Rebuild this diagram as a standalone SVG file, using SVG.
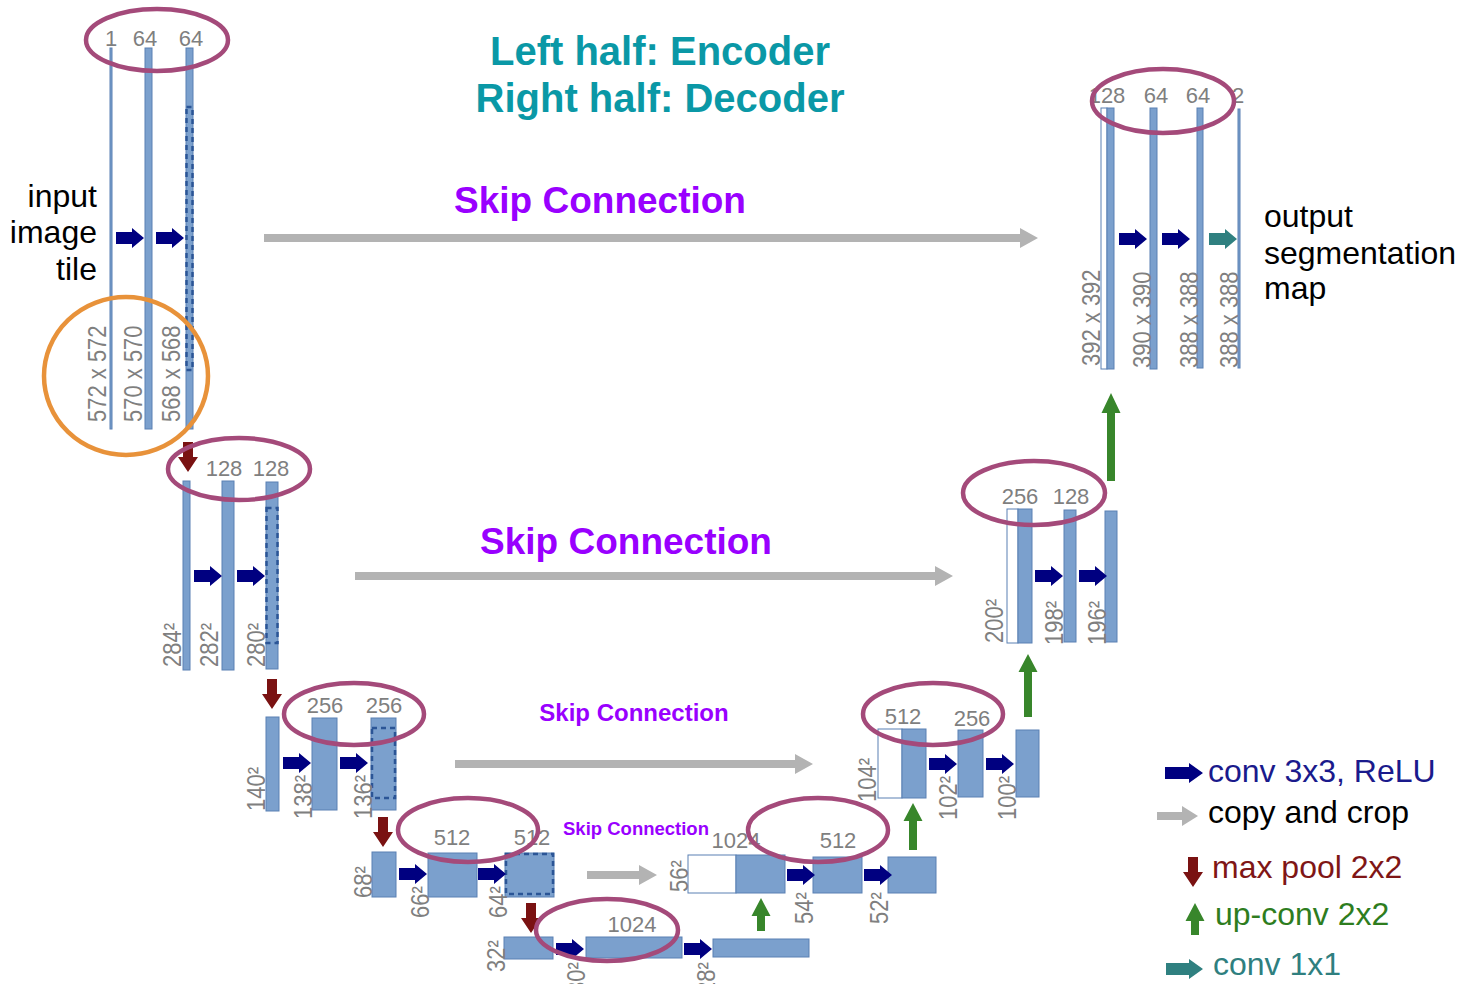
<svg xmlns="http://www.w3.org/2000/svg" width="1470" height="984" viewBox="0 0 1470 984">
<style>
.bar{fill:#7ba0cd;stroke:#5a80b3;stroke-width:1}
.wbar{fill:#fff;stroke:#5a80b3;stroke-width:1}
.dash{fill:none;stroke:#2b5596;stroke-width:2.5;stroke-dasharray:5 4}
.lbl{font-family:"Liberation Sans",Arial,sans-serif;font-size:22px;fill:#7f7f7f}
.mid{text-anchor:middle}
.ell{fill:none;stroke:#a44a7a;stroke-width:4.5}
.conv{fill:#000080}
.pool{fill:#7a1212}
.up{fill:#38862b}
.copy{fill:#b3b3b3}
.c11{fill:#2f8080}
.skip{font-family:"Liberation Sans",Arial,sans-serif;font-weight:bold;fill:#9900ff;text-anchor:middle}
.title{font-family:"Liberation Sans",Arial,sans-serif;font-weight:bold;font-size:40px;fill:#0a98a6;text-anchor:middle}
.big{font-family:"Liberation Sans",Arial,sans-serif;font-size:32px;fill:#000}
</style>
<defs>
<path id="aConv" d="M-28,-6 H-12 V-10 L0,0 L-12,10 V6 H-28 Z"/>
<path id="aPool" d="M-5,-30 H5 V-15 H10 L0,0 L-10,-15 H-5 Z"/>
</defs>
<rect width="1470" height="984" fill="#fff"/>

<text class="title" x="660" y="65">Left half: Encoder</text>
<text class="title" x="660" y="112">Right half: Decoder</text>

<g id="enc1">
<rect class="bar" x="110" y="48" width="2" height="381"/>
<rect class="bar" x="145" y="48" width="7" height="381"/>
<rect class="bar" x="186" y="48" width="7" height="381"/>
<rect class="dash" x="186.5" y="107" width="6" height="263"/>
<text class="lbl mid" x="111" y="46">1</text>
<text class="lbl mid" x="145" y="46">64</text>
<text class="lbl mid" x="191" y="46">64</text>
<text class="lbl" transform="translate(106,422) rotate(-90) scale(1,1.18)">572 x 572</text>
<text class="lbl" transform="translate(142,422) rotate(-90) scale(1,1.18)">570 x 570</text>
<text class="lbl" transform="translate(180,422) rotate(-90) scale(1,1.18)">568 x 568</text>
<text class="big" text-anchor="end" x="97" y="207">input</text>
<text class="big" text-anchor="end" x="97" y="243">image</text>
<text class="big" text-anchor="end" x="97" y="280">tile</text>
</g>

<g id="enc2">
<rect class="bar" x="183" y="481" width="7" height="189"/>
<rect class="bar" x="222" y="481" width="12" height="189"/>
<rect class="bar" x="266" y="482" width="12" height="187"/>
<rect class="dash" x="266.5" y="508" width="11" height="135"/>
<text class="lbl mid" x="224" y="476">128</text>
<text class="lbl mid" x="271" y="476">128</text>
<text class="lbl" transform="translate(181,667) rotate(-90) scale(1,1.18)">284²</text>
<text class="lbl" transform="translate(218,667) rotate(-90) scale(1,1.18)">282²</text>
<text class="lbl" transform="translate(265,667) rotate(-90) scale(1,1.18)">280²</text>
</g>

<g id="enc3">
<rect class="bar" x="266" y="717" width="13" height="94"/>
<rect class="bar" x="312" y="718" width="25" height="92"/>
<rect class="bar" x="371" y="718" width="25" height="92"/>
<rect class="dash" x="372" y="728" width="23" height="70"/>
<text class="lbl mid" x="325" y="713">256</text>
<text class="lbl mid" x="384" y="713">256</text>
<text class="lbl" transform="translate(265,811) rotate(-90) scale(1,1.18)">140²</text>
<text class="lbl" transform="translate(312,819) rotate(-90) scale(1,1.18)">138²</text>
<text class="lbl" transform="translate(372,819) rotate(-90) scale(1,1.18)">136²</text>
</g>

<g id="enc4">
<rect class="bar" x="372" y="852" width="24" height="45"/>
<rect class="bar" x="428" y="853" width="49" height="44"/>
<rect class="bar" x="505" y="853" width="49" height="44"/>
<rect class="dash" x="506" y="854" width="47" height="40"/>
<text class="lbl mid" x="452" y="845">512</text>
<text class="lbl mid" x="532" y="845">512</text>
<text class="lbl" transform="translate(372,898) rotate(-90) scale(1,1.18)">68²</text>
<text class="lbl" transform="translate(429,918) rotate(-90) scale(1,1.18)">66²</text>
<text class="lbl" transform="translate(507,918) rotate(-90) scale(1,1.18)">64²</text>
</g>

<g id="bottleneck">
<rect class="bar" x="504" y="937" width="49" height="22"/>
<rect class="bar" x="586" y="937" width="96" height="21"/>
<rect class="bar" x="713" y="939" width="96" height="18"/>
<text class="lbl mid" x="632" y="932">1024</text>
<text class="lbl" transform="translate(505,972) rotate(-90) scale(1,1.18)">32²</text>
<text class="lbl" transform="translate(585,994) rotate(-90) scale(1,1.18)">30²</text>
<text class="lbl" transform="translate(715,994) rotate(-90) scale(1,1.18)">28²</text>
</g>

<g id="dec4">
<rect class="wbar" x="688" y="855" width="48" height="38"/>
<rect class="bar" x="736" y="855" width="49" height="38"/>
<rect class="bar" x="813" y="857" width="49" height="36"/>
<rect class="bar" x="888" y="857" width="48" height="36"/>
<text class="lbl mid" x="736" y="848">1024</text>
<text class="lbl mid" x="838" y="848">512</text>
<text class="lbl" transform="translate(688,892) rotate(-90) scale(1,1.18)">56²</text>
<text class="lbl" transform="translate(813,924) rotate(-90) scale(1,1.18)">54²</text>
<text class="lbl" transform="translate(888,924) rotate(-90) scale(1,1.18)">52²</text>
</g>

<g id="dec3">
<rect class="wbar" x="878" y="729" width="24" height="69"/>
<rect class="bar" x="902" y="729" width="24" height="69"/>
<rect class="bar" x="958" y="730" width="25" height="67"/>
<rect class="bar" x="1016" y="730" width="23" height="67"/>
<text class="lbl mid" x="903" y="724">512</text>
<text class="lbl mid" x="972" y="726">256</text>
<text class="lbl" transform="translate(876,802) rotate(-90) scale(1,1.18)">104²</text>
<text class="lbl" transform="translate(957,820) rotate(-90) scale(1,1.18)">102²</text>
<text class="lbl" transform="translate(1016,820) rotate(-90) scale(1,1.18)">100²</text>
</g>

<g id="dec2">
<rect class="wbar" x="1007" y="509" width="11" height="134"/>
<rect class="bar" x="1018" y="509" width="14" height="134"/>
<rect class="bar" x="1064" y="510" width="12" height="132"/>
<rect class="bar" x="1105" y="511" width="12" height="131"/>
<text class="lbl mid" x="1020" y="504">256</text>
<text class="lbl mid" x="1071" y="504">128</text>
<text class="lbl" transform="translate(1003,643) rotate(-90) scale(1,1.18)">200²</text>
<text class="lbl" transform="translate(1063,645) rotate(-90) scale(1,1.18)">198²</text>
<text class="lbl" transform="translate(1106,645) rotate(-90) scale(1,1.18)">196²</text>
</g>

<g id="dec1">
<rect class="wbar" x="1101" y="108" width="6" height="261"/>
<rect class="bar" x="1107" y="108" width="7" height="261"/>
<rect class="bar" x="1150" y="108" width="7" height="261"/>
<rect class="bar" x="1197" y="108" width="6" height="260"/>
<rect class="bar" x="1238" y="109" width="2" height="259"/>
<text class="lbl mid" x="1107" y="103">128</text>
<text class="lbl mid" x="1156" y="103">64</text>
<text class="lbl mid" x="1198" y="103">64</text>
<text class="lbl mid" x="1238" y="103">2</text>
<text class="lbl" transform="translate(1100,366) rotate(-90) scale(1,1.18)">392 x 392</text>
<text class="lbl" transform="translate(1151,368) rotate(-90) scale(1,1.18)">390 x 390</text>
<text class="lbl" transform="translate(1198,368) rotate(-90) scale(1,1.18)">388 x 388</text>
<text class="lbl" transform="translate(1238,368) rotate(-90) scale(1,1.18)">388 x 388</text>
<text class="big" x="1264" y="227">output</text>
<text class="big" x="1264" y="264">segmentation</text>
<text class="big" x="1264" y="299">map</text>
</g>

<g id="connectors">
<use href="#aConv" class="conv" x="144" y="238"/>
<use href="#aConv" class="conv" x="184" y="238"/>
<use href="#aConv" class="conv" x="222" y="576"/>
<use href="#aConv" class="conv" x="265" y="576"/>
<use href="#aConv" class="conv" x="311" y="763"/>
<use href="#aConv" class="conv" x="368" y="763"/>
<use href="#aConv" class="conv" x="427" y="874"/>
<use href="#aConv" class="conv" x="506" y="874"/>
<use href="#aConv" class="conv" x="584" y="949"/>
<use href="#aConv" class="conv" x="712" y="949"/>
<use href="#aConv" class="conv" x="815" y="875"/>
<use href="#aConv" class="conv" x="892" y="875"/>
<use href="#aConv" class="conv" x="957" y="764"/>
<use href="#aConv" class="conv" x="1014" y="764"/>
<use href="#aConv" class="conv" x="1063" y="576"/>
<use href="#aConv" class="conv" x="1107" y="576"/>
<use href="#aConv" class="conv" x="1147" y="239"/>
<use href="#aConv" class="conv" x="1190" y="239"/>
<use href="#aConv" class="c11" x="1237" y="239"/>
<use href="#aPool" class="pool" x="188" y="472"/>
<use href="#aPool" class="pool" x="272" y="709"/>
<use href="#aPool" class="pool" x="383" y="847"/>
<use href="#aPool" class="pool" x="531" y="933"/>
<path class="up" d="M757,931 V916 H751.5 L761,898 L770.5,916 H765 V931 Z"/>
<path class="up" d="M909,850 V821 H903.5 L913,803 L922.5,821 H917 V850 Z"/>
<path class="up" d="M1024,717 V672 H1018.5 L1028,654 L1037.5,672 H1032 V717 Z"/>
<path class="up" d="M1107,481 V413 H1101.5 L1111,393 L1120.5,413 H1115 V481 Z"/>
<path class="copy" d="M264,234 H1020 V228 L1038,238 L1020,248 V242 H264 Z"/>
<path class="copy" d="M355,572 H935 V566 L953,576 L935,586 V580 H355 Z"/>
<path class="copy" d="M455,760 H795 V754 L813,764 L795,774 V768 H455 Z"/>
<path class="copy" d="M587,871 H639 V865 L657,875 L639,885 V879 H587 Z"/>
</g>

<g id="skip-labels">
<text class="skip" x="600" y="213" font-size="37">Skip Connection</text>
<text class="skip" x="626" y="554" font-size="37">Skip Connection</text>
<text class="skip" x="634" y="721" font-size="24">Skip Connection</text>
<text class="skip" x="636" y="835" font-size="18.5">Skip Connection</text>
</g>

<g id="annotations">
<ellipse class="ell" cx="157" cy="40" rx="71" ry="31"/>
<ellipse cx="126" cy="376" rx="82" ry="79" fill="none" stroke="#e8923a" stroke-width="4.5"/>
<ellipse class="ell" cx="239" cy="469" rx="71" ry="31"/>
<ellipse class="ell" cx="354" cy="714" rx="70" ry="31"/>
<ellipse class="ell" cx="468" cy="830" rx="70" ry="32"/>
<ellipse class="ell" cx="607" cy="930" rx="71" ry="31"/>
<ellipse class="ell" cx="818" cy="830" rx="70" ry="32"/>
<ellipse class="ell" cx="933" cy="714" rx="70" ry="31"/>
<ellipse class="ell" cx="1034" cy="493" rx="71" ry="32"/>
<ellipse class="ell" cx="1163" cy="101" rx="71" ry="32"/>
</g>

<g id="legend">
<path class="conv" d="M1165,767 H1189 V763 L1203,773 L1189,783 V779 H1165 Z"/>
<path class="copy" d="M1157,812 H1182 V806 L1198,816 L1182,826 V820 H1157 Z"/>
<use href="#aPool" class="pool" x="1193" y="887"/>
<path class="up" d="M1191,935 V921 H1185.5 L1195,903 L1204.5,921 H1199 V935 Z"/>
<path class="c11" d="M1166,963 H1189 V959 L1203,969 L1189,979 V975 H1166 Z"/>
<text class="big" x="1208" y="782" style="fill:#1a1a8c">conv 3x3, ReLU</text>
<text class="big" x="1208" y="823">copy and crop</text>
<text class="big" x="1212" y="878" style="fill:#7f1616">max pool 2x2</text>
<text class="big" x="1215" y="925" style="fill:#2e7d1e">up-conv 2x2</text>
<text class="big" x="1213" y="975" style="fill:#2f7f7f">conv 1x1</text>
</g>
</svg>
